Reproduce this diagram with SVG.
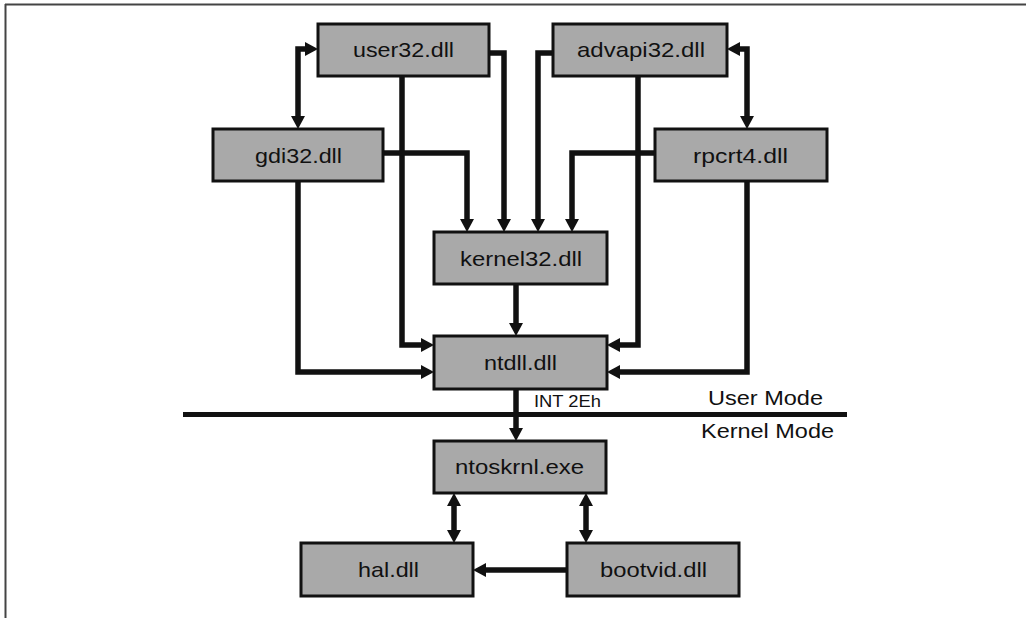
<svg xmlns="http://www.w3.org/2000/svg" width="1026" height="618" viewBox="0 0 1026 618">
<style>
.box{fill:#a9a9a9;stroke:#111;stroke-width:3}
.lbl{font-family:"Liberation Sans",Arial,sans-serif;font-size:21px;fill:#111;text-anchor:middle}
.c{fill:none;stroke:#111;stroke-width:5.5;stroke-linejoin:miter}
.mode{font-family:"Liberation Sans",Arial,sans-serif;font-size:20px;fill:#111}
.int{font-family:"Liberation Sans",Arial,sans-serif;font-size:16.5px;fill:#111}
</style>
<defs>
<marker id="ah" viewBox="0 0 13 14" refX="0" refY="7" markerWidth="13" markerHeight="14" markerUnits="userSpaceOnUse" orient="auto-start-reverse">
<path d="M0,0 L13,7 L0,14 z" fill="#111"/>
</marker>
</defs>
<rect width="1026" height="618" fill="#fff"/>
<g id="frame">
<line x1="5" y1="4.5" x2="1026" y2="4.5" stroke="#444" stroke-width="2"/>
<line x1="5.5" y1="4" x2="5.5" y2="618" stroke="#444" stroke-width="2"/>
</g>
<g id="connectors">
<path class="c" d="M298,116 V49 H305" marker-start="url(#ah)" marker-end="url(#ah)"/>
<path class="c" d="M402,76 V345 H421" marker-end="url(#ah)"/>
<path class="c" d="M489,53 H504 V219" marker-end="url(#ah)"/>
<path class="c" d="M383,153 H467 V219" marker-end="url(#ah)"/>
<path class="c" d="M298,181 V372 H421" marker-end="url(#ah)"/>
<path class="c" d="M553,53 H538 V219" marker-end="url(#ah)"/>
<path class="c" d="M638,76 V345 H620" marker-end="url(#ah)"/>
<path class="c" d="M740,49 H747 V116" marker-start="url(#ah)" marker-end="url(#ah)"/>
<path class="c" d="M655,153 H572 V219" marker-end="url(#ah)"/>
<path class="c" d="M747,181 V372 H620" marker-end="url(#ah)"/>
<path class="c" d="M516,284 V323" marker-end="url(#ah)"/>
<path class="c" d="M516,389 V428" marker-end="url(#ah)"/>
<path class="c" d="M454,506 V530" marker-start="url(#ah)" marker-end="url(#ah)"/>
<path class="c" d="M586,506 V530" marker-start="url(#ah)" marker-end="url(#ah)"/>
<path class="c" d="M567,570 H486" marker-end="url(#ah)"/>
</g>
<g id="modeline">
<line x1="183" y1="414.5" x2="847" y2="414.5" stroke="#111" stroke-width="5"/>
<text class="int" x="534" y="407" textLength="67" lengthAdjust="spacingAndGlyphs">INT 2Eh</text>
<text class="mode" x="708" y="405" textLength="115" lengthAdjust="spacingAndGlyphs">User Mode</text>
<text class="mode" x="701" y="438" textLength="133" lengthAdjust="spacingAndGlyphs">Kernel Mode</text>
</g>
<g id="user32"><rect class="box" x="318" y="24" width="171" height="52"/><text class="lbl" x="403.5" y="57" textLength="101" lengthAdjust="spacingAndGlyphs">user32.dll</text></g>
<g id="advapi32"><rect class="box" x="553" y="24" width="174" height="52"/><text class="lbl" x="641" y="57" textLength="128" lengthAdjust="spacingAndGlyphs">advapi32.dll</text></g>
<g id="gdi32"><rect class="box" x="213" y="129" width="170" height="52"/><text class="lbl" x="298.5" y="163" textLength="87" lengthAdjust="spacingAndGlyphs">gdi32.dll</text></g>
<g id="rpcrt4"><rect class="box" x="655" y="129" width="172" height="52"/><text class="lbl" x="740.5" y="163" textLength="95" lengthAdjust="spacingAndGlyphs">rpcrt4.dll</text></g>
<g id="kernel32"><rect class="box" x="434" y="232" width="173" height="52"/><text class="lbl" x="521" y="266" textLength="122" lengthAdjust="spacingAndGlyphs">kernel32.dll</text></g>
<g id="ntdll"><rect class="box" x="434" y="336" width="173" height="53"/><text class="lbl" x="520.5" y="370" textLength="73" lengthAdjust="spacingAndGlyphs">ntdll.dll</text></g>
<g id="ntoskrnl"><rect class="box" x="434" y="441" width="172" height="52"/><text class="lbl" x="519.5" y="474" textLength="129" lengthAdjust="spacingAndGlyphs">ntoskrnl.exe</text></g>
<g id="hal"><rect class="box" x="301" y="543" width="172" height="53"/><text class="lbl" x="388.5" y="577" textLength="61" lengthAdjust="spacingAndGlyphs">hal.dll</text></g>
<g id="bootvid"><rect class="box" x="567" y="543" width="172" height="53"/><text class="lbl" x="653.5" y="577" textLength="107" lengthAdjust="spacingAndGlyphs">bootvid.dll</text></g>
</svg>
